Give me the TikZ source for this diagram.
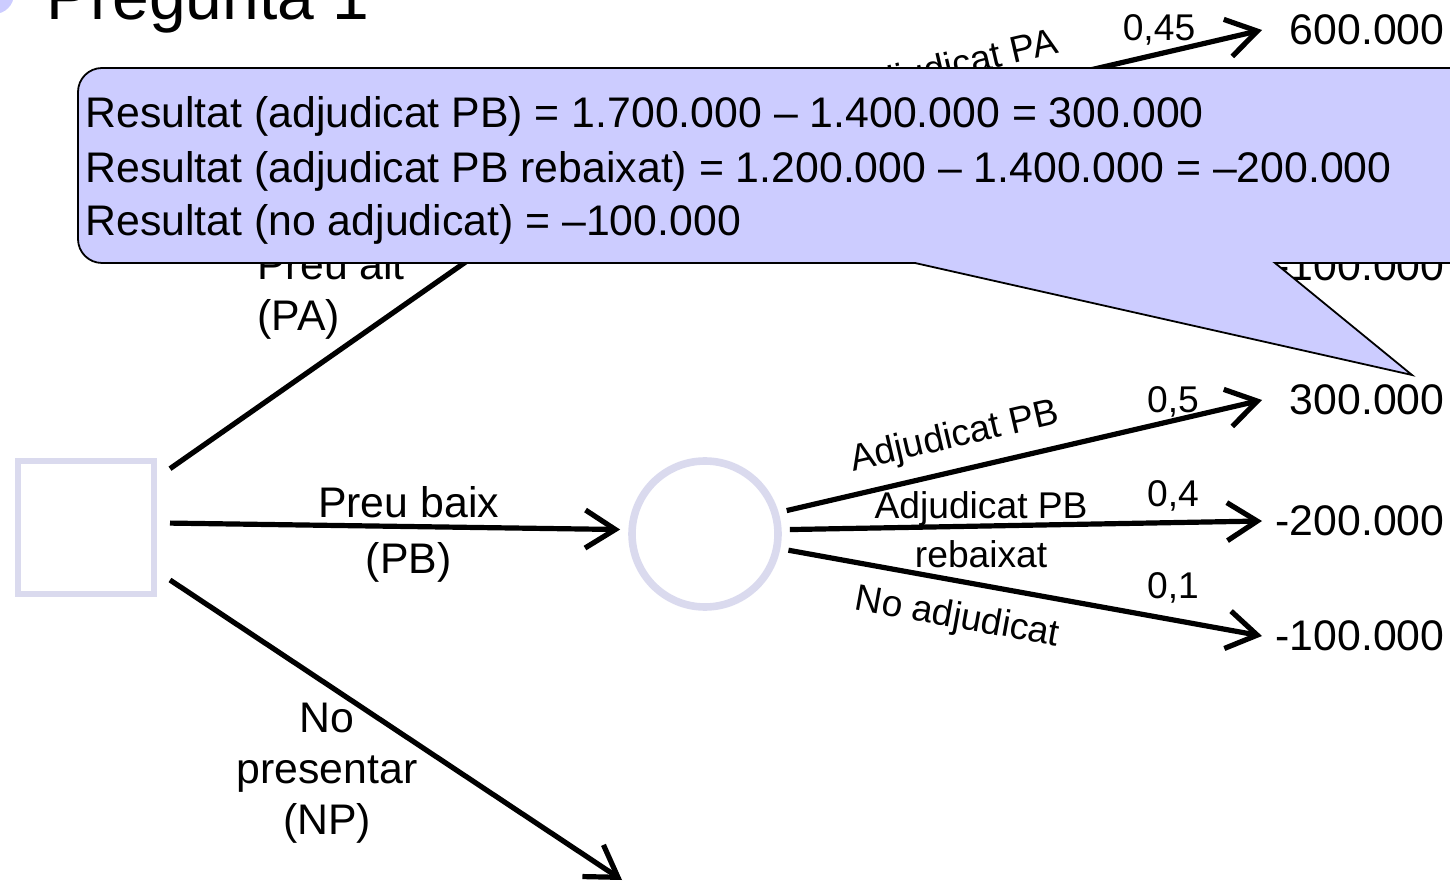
\documentclass[tikz,border=0pt]{standalone}
\usepackage{fontspec}
\setmainfont{Liberation Sans}
\usepackage{tikz}
\usetikzlibrary{arrows.meta,calc}

\definecolor{callfill}{RGB}{204,204,255}
\definecolor{nodeline}{RGB}{218,218,238}

\begin{document}
\begin{tikzpicture}[x=0.5pt,y=-0.5pt,
  every node/.style={font=\fontsize{21.4}{25.5}\selectfont},
  decision/.style={draw=nodeline,line width=3.3pt,minimum width=68pt,minimum height=66.5pt,outer xsep=8pt,outer ysep=0pt},
  chance/.style={circle,draw=nodeline,line width=3.8pt,minimum size=73pt,outer sep=6pt},
  branch/.style={line width=2.6pt,-{Straight Barb[length=15pt,width=19pt]}},
  lbl/.style={inner sep=2pt,align=center},
  small/.style={inner sep=2pt,font=\fontsize{18.6}{22}\selectfont},
  val/.style={anchor=east,inner sep=0pt},
  txtline/.style={anchor=base west,inner sep=0pt}]
  \useasboundingbox (0,0) rectangle (1450,881);
  \clip (0,0) rectangle (1450,881);

  % Title
  \fill[callfill] (-6,-6) circle[radius=10pt];
  \node[anchor=base west,inner sep=0pt,font=\fontsize{33}{40}\selectfont] (title) at (46,20) {Pregunta 1};

  % Nodes
  \node[decision] (dec) at (86,527.5) {};
  \node[chance] (chA) at (705,164) {};
  \node[chance] (chB) at (705,534) {};
  \coordinate (tips) at (1262,0);
  \coordinate (npend) at (622,880);

  % Results
  \node[val] (v1) at (1445,30) {600.000};
  \node[val] (v3) at (1445,266) {-100.000};
  \node[val] (w1) at (1445,400) {300.000};
  \node[val] (w2) at (1445,521) {-200.000};
  \node[val] (w3) at (1445,636) {-100.000};

  % Decision: PA, PB, NP
  \draw[branch] (dec.35) -- (chA.173);
  \draw[branch] (dec.3) -- (chB.177)
    node[lbl,pos=.53,above=1pt] {Preu baix}
    node[lbl,pos=.53,below=4.5pt] {(PB)};
  \draw[branch] (dec.-32) -- (npend);
  \node[lbl,align=left,anchor=west] (pa) at (253,294) {Preu alt\\(PA)};
  \node[lbl] (np) at (327,773) {No\\presentar\\(NP)};

  % Chance node after PA
  \draw[branch] (chA.16) -- (v1 -| tips)
    node[small,sloped,pos=.37,above=4.5pt] {Adjudicat PA};
  \draw[branch] (chA.-11) -- (v3 -| tips);
  \node[small] (q1) at (1159,30) {0,45};

  % Chance node after PB
  \draw[branch] (chB.16) -- (w1 -| tips)
    node[small,sloped,pos=.37,above=4.5pt] {Adjudicat PB};
  \draw[branch] (chB.3) -- (w2 -| tips)
    node[small,pos=.405,above=-3.5pt] {Adjudicat PB}
    node[small,pos=.405,below=4pt] {rebaixat};
  \draw[branch] (chB.-11) -- (w3 -| tips)
    node[small,sloped,pos=.37,below=6.5pt] {No adjudicat};
  \node[small] (q2) at (1173,402) {0,5};
  \node[small] (q3) at (1173,496) {0,4};
  \node[small] (q4) at (1173,588) {0,1};

  % Callout
  \draw[fill=callfill,line width=0.9pt] (1412,375) -- (1275,263) -- (1500,263) -- (1500,68)
    [rounded corners=12pt] -- (78,68) -- (78,263) [sharp corners] -- (915,263) -- cycle;
  \node[txtline] (r1) at (85,128) {Resultat (adjudicat PB) = 1.700.000 – 1.400.000 = 300.000};
  \node[txtline] (r2) at (85,183) {Resultat (adjudicat PB rebaixat) = 1.200.000 – 1.400.000 = –200.000};
  \node[txtline] (r3) at (85,236) {Resultat (no adjudicat) = –100.000};
\end{tikzpicture}
\end{document}
